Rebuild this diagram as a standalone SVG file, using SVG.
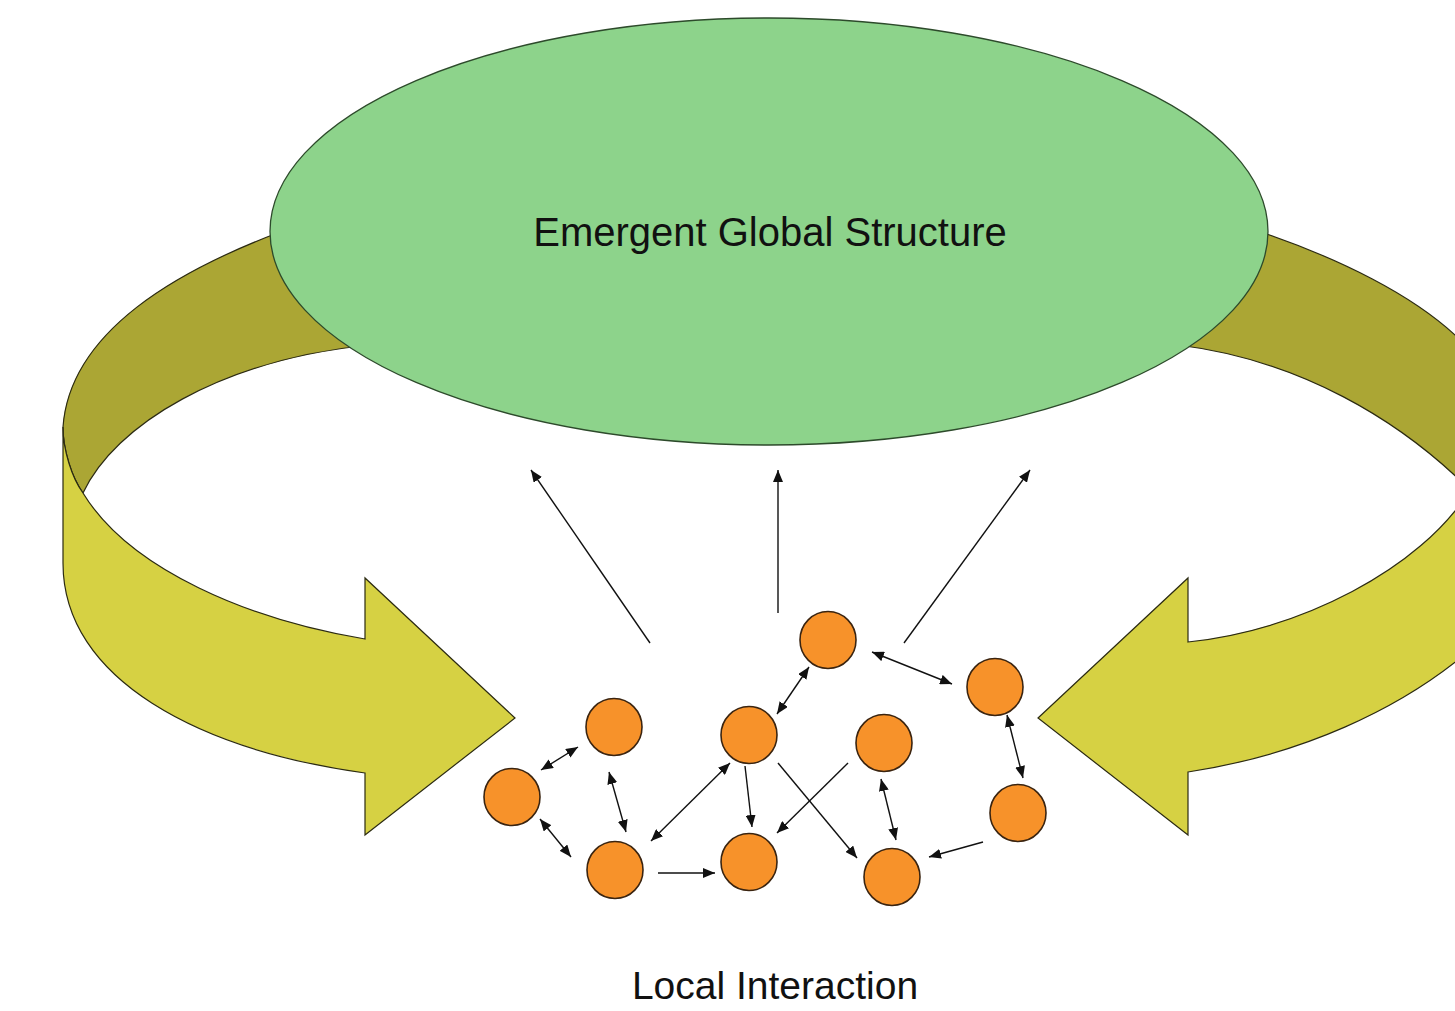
<svg xmlns="http://www.w3.org/2000/svg" width="1455" height="1011" viewBox="0 0 1455 1011">
  <defs>
    <style>
      .band-back { fill: #ABA634; stroke: #2b2a12; stroke-width: 1.2; stroke-linejoin: round; }
      .band-front { fill: #D6D143; stroke: #2b2a12; stroke-width: 1.2; stroke-linejoin: miter; }
      .global { fill: #8DD38B; stroke: #2d4a2b; stroke-width: 1.3; }
      .agent { fill: #F7922A; stroke: #3a2410; stroke-width: 1.6; }
      .link { stroke: #111; stroke-width: 1.4; fill: none; }
      .label { font-family: "Liberation Sans", Arial, sans-serif; fill: #111; text-anchor: middle; }
    </style>
    <marker id="tip" viewBox="0 0 12 10" refX="12" refY="5" markerWidth="12" markerHeight="10" markerUnits="userSpaceOnUse" orient="auto-start-reverse">
      <path d="M0,0 L12,5 L0,10 Z" fill="#111"/>
    </marker>
  </defs>

  <rect width="1455" height="1011" fill="#ffffff"/>

  <!-- back (inner) faces of the feedback ribbons, partly hidden by the ellipse -->
  <g id="ribbon-left-back">
    <path class="band-back" d="M280,232 C180,270 70,330 63,427 C63,450 72,478 83,493 C115,425 220,360 370,345 L300,232 Z"/>
  </g>
  <g id="ribbon-right-back">
    <path class="band-back" d="M1255,230 C1330,255 1420,295 1470,350 L1470,490 C1400,420 1300,360 1178,345 Z"/>
  </g>

  <!-- emergent global structure -->
  <g id="global-structure">
    <ellipse class="global" cx="769" cy="231.5" rx="499" ry="213.5"/>
    <text class="label" x="770" y="246" font-size="40">Emergent Global Structure</text>
  </g>

  <!-- front faces of the ribbons ending in block arrows -->
  <g id="ribbon-left-front">
    <path class="band-front" d="M63,427 L63,563 C63,680 200,750 365,773 L365,835 L515,718 L365,578 L365,639 C250,620 130,570 83,493 C72,478 63,450 63,427 Z"/>
  </g>
  <g id="ribbon-right-front">
    <path class="band-front" d="M1470,490 C1420,570 1300,630 1188,642 L1188,578 L1038,718 L1188,835 L1188,772 C1300,755 1400,710 1470,650 Z"/>
  </g>

  <!-- connectors -->
  <g id="connectors">
    <!-- upward influence -->
    <line class="link" x1="650" y1="643" x2="531" y2="470" marker-end="url(#tip)"/>
    <line class="link" x1="778" y1="613" x2="778" y2="470" marker-end="url(#tip)"/>
    <line class="link" x1="904" y1="643" x2="1030" y2="470" marker-end="url(#tip)"/>
    <!-- two-way interactions -->
    <line class="link" x1="541" y1="770" x2="578" y2="747" marker-start="url(#tip)" marker-end="url(#tip)"/>
    <line class="link" x1="609" y1="772" x2="626" y2="832" marker-start="url(#tip)" marker-end="url(#tip)"/>
    <line class="link" x1="540" y1="819" x2="571" y2="857" marker-start="url(#tip)" marker-end="url(#tip)"/>
    <line class="link" x1="651" y1="841" x2="730" y2="763" marker-start="url(#tip)" marker-end="url(#tip)"/>
    <line class="link" x1="777" y1="714" x2="809" y2="667" marker-start="url(#tip)" marker-end="url(#tip)"/>
    <line class="link" x1="872" y1="652" x2="952" y2="684" marker-start="url(#tip)" marker-end="url(#tip)"/>
    <line class="link" x1="1007" y1="715" x2="1023" y2="778" marker-start="url(#tip)" marker-end="url(#tip)"/>
    <line class="link" x1="881" y1="779" x2="896" y2="840" marker-start="url(#tip)" marker-end="url(#tip)"/>
    <!-- one-way interactions -->
    <line class="link" x1="658" y1="873" x2="715" y2="873" marker-end="url(#tip)"/>
    <line class="link" x1="745" y1="766" x2="752" y2="827" marker-end="url(#tip)"/>
    <line class="link" x1="848" y1="763" x2="777" y2="833" marker-end="url(#tip)"/>
    <line class="link" x1="778" y1="763" x2="857" y2="858" marker-end="url(#tip)"/>
    <line class="link" x1="983" y1="842" x2="929" y2="857" marker-end="url(#tip)"/>
  </g>

  <!-- interacting agents -->
  <g id="agent-1"><ellipse class="agent" cx="828" cy="640" rx="28" ry="28.5"/></g>
  <g id="agent-2"><ellipse class="agent" cx="995" cy="687" rx="28" ry="28.5"/></g>
  <g id="agent-3"><ellipse class="agent" cx="614" cy="727" rx="28" ry="28.5"/></g>
  <g id="agent-4"><ellipse class="agent" cx="749" cy="735" rx="28" ry="28.5"/></g>
  <g id="agent-5"><ellipse class="agent" cx="884" cy="743" rx="28" ry="28.5"/></g>
  <g id="agent-6"><ellipse class="agent" cx="512" cy="797" rx="28" ry="28.5"/></g>
  <g id="agent-7"><ellipse class="agent" cx="1018" cy="813" rx="28" ry="28.5"/></g>
  <g id="agent-8"><ellipse class="agent" cx="615" cy="870" rx="28" ry="28.5"/></g>
  <g id="agent-9"><ellipse class="agent" cx="749" cy="862" rx="28" ry="28.5"/></g>
  <g id="agent-10"><ellipse class="agent" cx="892" cy="877" rx="28" ry="28.5"/></g>

  <g id="caption">
    <text class="label" x="775" y="999" font-size="39">Local Interaction</text>
  </g>
</svg>
